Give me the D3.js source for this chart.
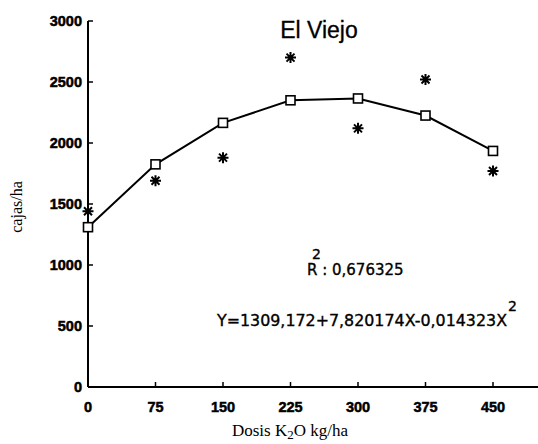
<!DOCTYPE html>
<html lang="es">
<head>
  <meta charset="UTF-8">
  <title>El Viejo</title>
  <script src="https://d3js.org/d3.v7.min.js"></script>
  <style>
    body { margin: 0; background: #fff; }
    svg { display: block; }
    .tick-label { font-family: "Liberation Sans", Arial, sans-serif; font-weight: bold; font-size: 14.5px; fill: #000; stroke: #000; stroke-width: 0.5; }
    .axis-title { font-family: "Liberation Serif", "Times New Roman", serif; fill: #000; }
    .note { font-family: "DejaVu Sans", sans-serif; fill: #000; stroke: #000; stroke-width: 0.35; }
  </style>
</head>
<body>
  <svg id="chart"></svg>
  <script>
    const width = 538;
    const height = 444;

    // data
    const dosis = [0, 75, 150, 225, 300, 375, 450];
    const observado = [1440, 1690, 1880, 2700, 2120, 2520, 1770];
    const ajustado = [1310, 1825, 2165, 2350, 2365, 2225, 1935];
    const xTicks = [0, 75, 150, 225, 300, 375, 450];
    const yTicks = [0, 500, 1000, 1500, 2000, 2500, 3000];

    const svg = d3.select("#chart")
      .attr("width", width)
      .attr("height", height);

    const x = d3.scaleLinear().domain([0, 500]).range([88, 538]);
    const y = d3.scaleLinear().domain([0, 3000]).range([387, 21]);

    // axes
    svg.append("line")
      .attr("x1", x(0)).attr("x2", x(500))
      .attr("y1", y(0)).attr("y2", y(0))
      .attr("stroke", "#000").attr("stroke-width", 2);
    svg.append("line")
      .attr("x1", x(0)).attr("x2", x(0))
      .attr("y1", y(0)).attr("y2", y(3000))
      .attr("stroke", "#000").attr("stroke-width", 2);

    // x ticks (pointing up)
    svg.selectAll(".xtick")
      .data(xTicks.slice(1))
      .enter().append("line")
      .attr("x1", d => x(d)).attr("x2", d => x(d))
      .attr("y1", y(0)).attr("y2", y(0) - 5)
      .attr("stroke", "#000").attr("stroke-width", 1.5);

    svg.selectAll(".xlabel")
      .data(xTicks)
      .enter().append("text")
      .attr("class", "tick-label")
      .attr("x", d => x(d))
      .attr("y", 412)
      .attr("text-anchor", "middle")
      .text(d => d);

    // y ticks (pointing right)
    svg.selectAll(".ytick")
      .data(yTicks.slice(1))
      .enter().append("line")
      .attr("x1", x(0)).attr("x2", x(0) + 5)
      .attr("y1", d => y(d)).attr("y2", d => y(d))
      .attr("stroke", "#000").attr("stroke-width", 1.5);

    svg.selectAll(".ylabel")
      .data(yTicks)
      .enter().append("text")
      .attr("class", "tick-label")
      .attr("x", 82)
      .attr("y", d => y(d) + 5)
      .attr("text-anchor", "end")
      .text(d => d);

    // axis titles
    svg.append("text")
      .attr("class", "axis-title")
      .attr("transform", "translate(22,207) rotate(-90)")
      .attr("text-anchor", "middle")
      .attr("font-size", 16)
      .text("cajas/ha");

    const xt = svg.append("text")
      .attr("class", "axis-title")
      .attr("x", 290)
      .attr("y", 436)
      .attr("text-anchor", "middle")
      .attr("font-size", 17);
    xt.append("tspan").text("Dosis K");
    xt.append("tspan").attr("font-size", 13).attr("dy", 3).text("2");
    xt.append("tspan").attr("dy", -3).text("O kg/ha");

    // fitted curve
    const line = d3.line()
      .x((d, i) => x(dosis[i]))
      .y(d => y(d));

    svg.append("path")
      .datum(ajustado)
      .attr("d", line)
      .attr("fill", "none")
      .attr("stroke", "#000")
      .attr("stroke-width", 2);

    svg.selectAll(".sq")
      .data(ajustado)
      .enter().append("rect")
      .attr("x", (d, i) => x(dosis[i]) - 4.5)
      .attr("y", d => y(d) - 4.5)
      .attr("width", 9)
      .attr("height", 9)
      .attr("fill", "#fff")
      .attr("stroke", "#000")
      .attr("stroke-width", 1.6);

    // observed points (8-arm asterisks)
    const star = "M-5.5,0L5.5,0M0,-5.5L0,5.5M-4,-4L4,4M-4,4L4,-4";
    svg.selectAll(".ast")
      .data(observado)
      .enter().append("path")
      .attr("transform", (d, i) => `translate(${x(dosis[i])},${y(d)})`)
      .attr("d", star)
      .attr("stroke", "#000")
      .attr("stroke-width", 2)
      .attr("fill", "none");

    // title
    svg.append("text")
      .attr("x", 319)
      .attr("y", 38)
      .attr("text-anchor", "middle")
      .attr("font-family", "'Liberation Sans', Arial, sans-serif")
      .attr("font-size", 23)
      .attr("stroke", "#000")
      .attr("stroke-width", 0.3)
      .text("El Viejo");

    // R2
    svg.append("text")
      .attr("class", "note")
      .attr("x", 307)
      .attr("y", 275)
      .attr("font-size", 15)
      .text("R : 0,676325");
    svg.append("text")
      .attr("class", "note")
      .attr("x", 312)
      .attr("y", 259)
      .attr("font-size", 14)
      .text("2");

    // equation
    svg.append("text")
      .attr("class", "note")
      .attr("x", 217)
      .attr("y", 326)
      .attr("font-size", 15.5)
      .attr("textLength", 290)
      .attr("lengthAdjust", "spacingAndGlyphs")
      .text("Y=1309,172+7,820174X-0,014323X");
    svg.append("text")
      .attr("class", "note")
      .attr("x", 508)
      .attr("y", 311)
      .attr("font-size", 14)
      .text("2");
  </script>
</body>
</html>
